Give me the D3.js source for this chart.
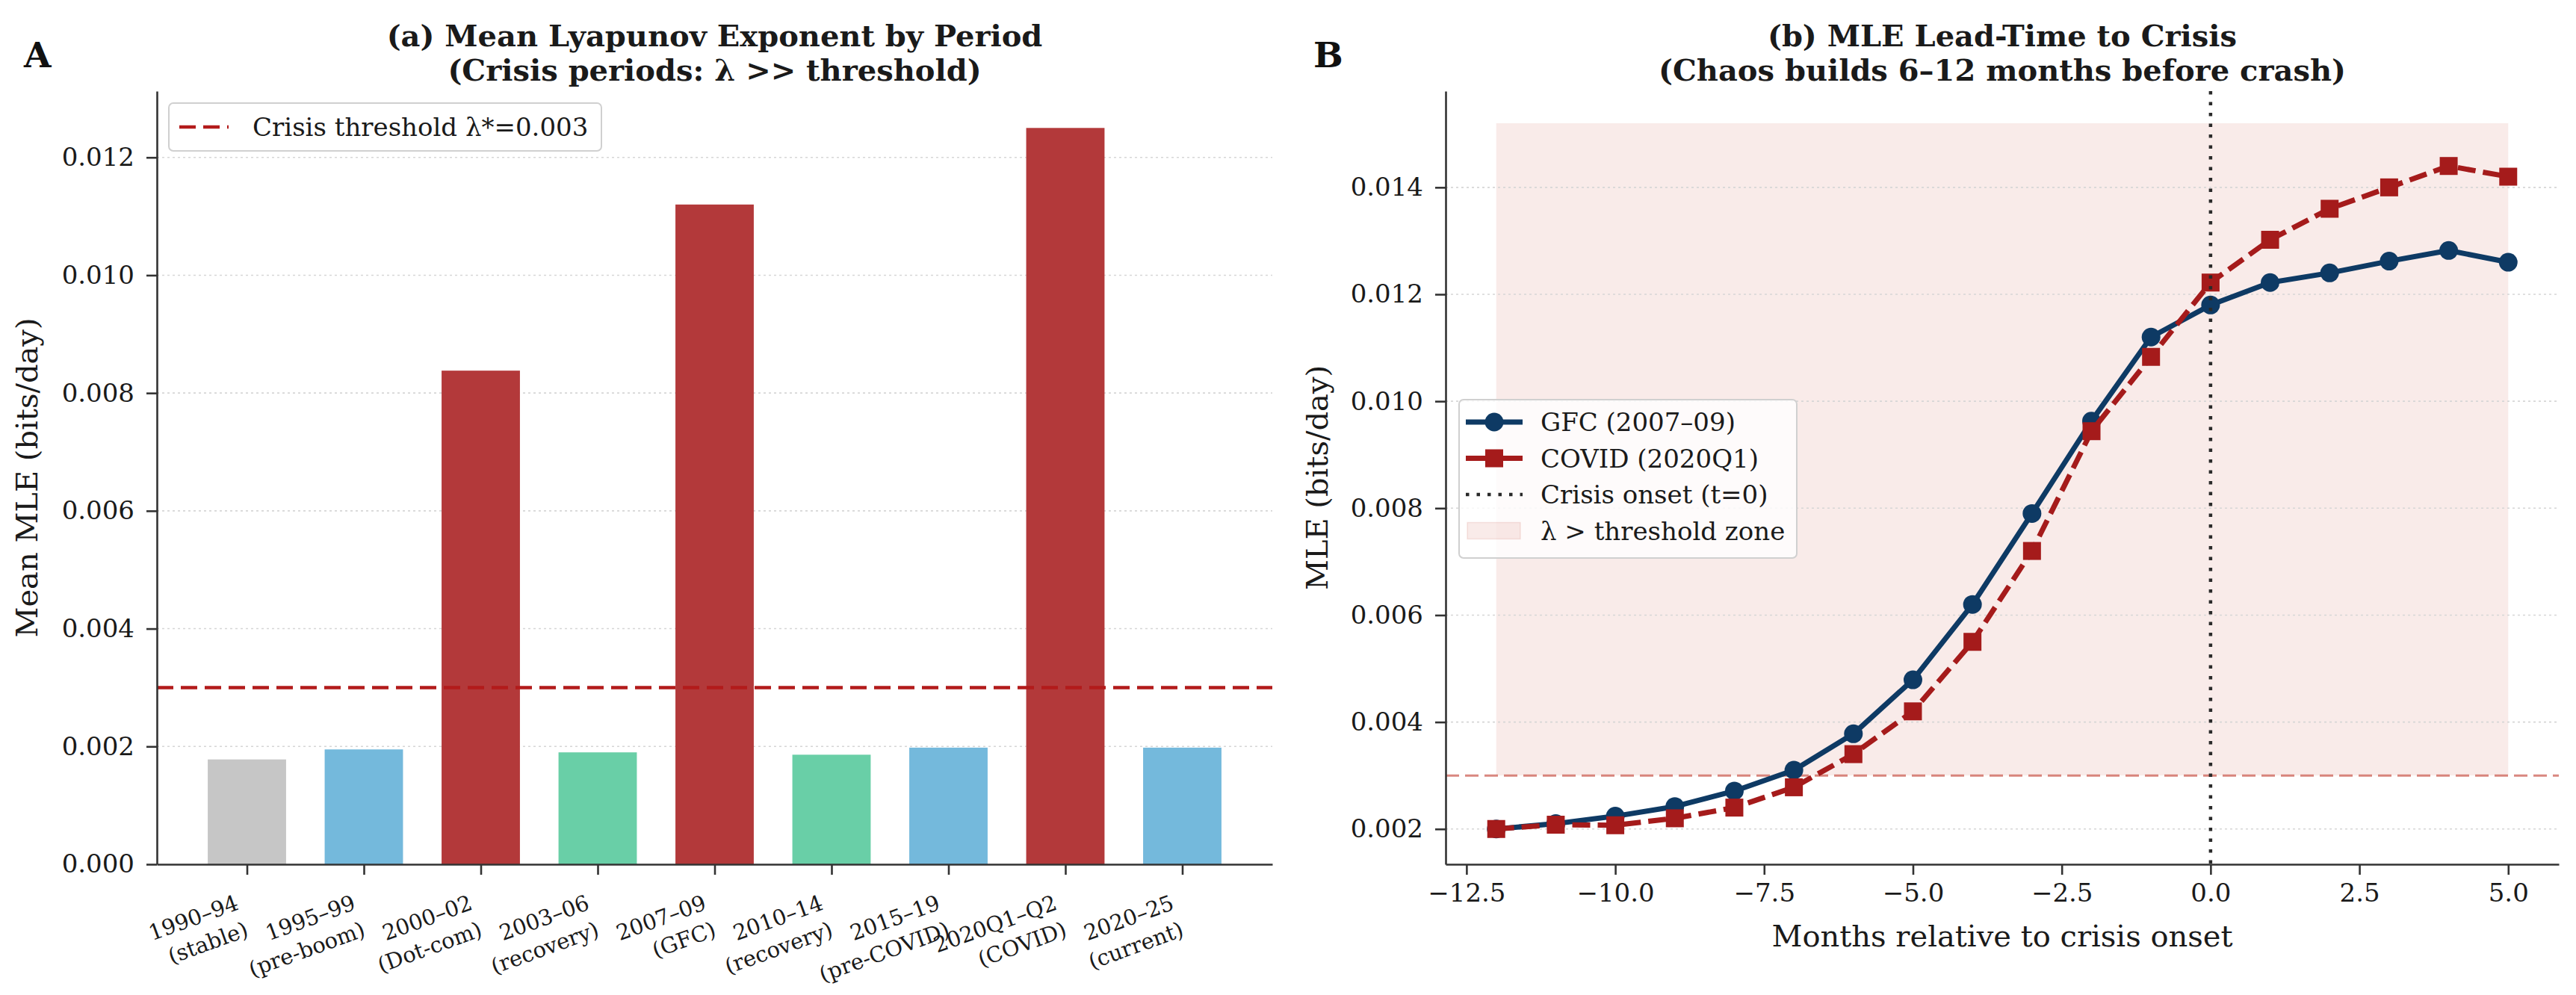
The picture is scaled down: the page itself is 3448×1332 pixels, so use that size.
<!DOCTYPE html>
<html>
<head>
<meta charset="utf-8">
<script src="https://cdn.jsdelivr.net/npm/d3@7"></script>
<style>
  body { margin: 0; background: #fff; }
  svg { display: block; font-family: "DejaVu Serif", serif; }
</style>
</head>
<body>
<script>
// panel A data
const periodYears = ['1990–94', '1995–99', '2000–02', '2003–06', '2007–09', '2010–14', '2015–19', '2020Q1–Q2', '2020–25'];
const periodNotes = ['(stable)', '(pre-boom)', '(Dot-com)', '(recovery)', '(GFC)', '(recovery)', '(pre-COVID)', '(COVID)', '(current)'];
const periodRegime = ['stable', 'calm', 'crisis', 'recovery', 'crisis', 'recovery', 'calm', 'crisis', 'calm'];
const meanMLE = [0.00178, 0.00195, 0.00838, 0.0019, 0.0112, 0.00186, 0.00198, 0.0125, 0.00198];
const yTicksA = [0, 0.002, 0.004, 0.006, 0.008, 0.010, 0.012];
const threshold = 0.003;

// panel B data
const months = [-12, -11, -10, -9, -8, -7, -6, -5, -4, -3, -2, -1, 0, 1, 2, 3, 4, 5];
const gfcMLE = [0.0020, 0.0021, 0.00224, 0.00242, 0.00271, 0.0031, 0.00378, 0.00479, 0.0062, 0.0079, 0.00963, 0.0112, 0.0118, 0.01222, 0.0124, 0.01262, 0.01282, 0.0126];
const covidMLE = [0.0020, 0.00208, 0.00207, 0.0022, 0.0024, 0.00278, 0.0034, 0.0042, 0.0055, 0.0072, 0.00944, 0.01083, 0.01222, 0.01302, 0.0136, 0.0140, 0.0144, 0.0142];
const zoneTop = 0.0152;
const yTicksB = [0.002, 0.004, 0.006, 0.008, 0.010, 0.012, 0.014];
const xTicksB = [-12.5, -10, -7.5, -5, -2.5, 0, 2.5, 5];

const regimeColor = { stable: '#c6c6c6', calm: '#74b9dc', crisis: '#b3393a', recovery: '#69cfa7' };
const navy = '#0e3a64', crimson = '#a51b1b', ink = '#1a1a1a', spine = '#333';
const serif = '"DejaVu Serif", serif';

const W = 3448, H = 1332;
const svg = d3.select('body').append('svg').attr('width', W).attr('height', H);

function styleAxis(g, fs) {
  g.attr('font-family', serif).attr('font-size', fs);
  g.select('.domain').attr('stroke', spine).attr('stroke-width', 2.6);
  g.selectAll('.tick line').attr('stroke', spine).attr('stroke-width', 2.6);
  g.selectAll('.tick text').attr('font-size', fs).attr('fill', ink).attr('font-family', serif);
}

function hGrid(g, ticks, y, x0, x1) {
  g.selectAll('line.grid').data(ticks.filter(t => t > 0)).enter().append('line')
    .attr('class', 'grid')
    .attr('x1', x0).attr('x2', x1)
    .attr('y1', d => y(d)).attr('y2', d => y(d))
    .attr('stroke', '#d6d6d6').attr('stroke-width', 1.6).attr('stroke-dasharray', '3,4');
}

// ---------------- panel A ----------------
const plotTop = 122, plotBottom = 1157;
const leftA = 210, rightA = 1703;
const xA = d3.scaleLinear().domain([-0.77, 8.77]).range([leftA, rightA]);
const yA = d3.scaleLinear().domain([0, d3.max(meanMLE) * 1.05]).range([plotBottom, plotTop]);
const half = 0.335;

const gA = svg.append('g');
hGrid(gA, yTicksA, yA, leftA, rightA);

gA.selectAll('rect.bar').data(meanMLE).enter().append('rect')
  .attr('class', 'bar')
  .attr('x', (d, i) => xA(i - half))
  .attr('width', (d, i) => xA(i + half) - xA(i - half))
  .attr('y', d => yA(d))
  .attr('height', d => yA(0) - yA(d))
  .attr('fill', (d, i) => regimeColor[periodRegime[i]]);

gA.append('line')
  .attr('x1', leftA).attr('x2', rightA)
  .attr('y1', yA(threshold)).attr('y2', yA(threshold))
  .attr('stroke', '#b31b1b').attr('stroke-width', 4.5).attr('stroke-dasharray', '22,10');

const axLA = gA.append('g').attr('transform', `translate(${leftA},0)`)
  .call(d3.axisLeft(yA).tickValues(yTicksA).tickFormat(d3.format('.3f')).tickSize(14).tickPadding(16).tickSizeOuter(0));
styleAxis(axLA, 34);

const axBA = gA.append('g').attr('transform', `translate(0,${plotBottom})`)
  .call(d3.axisBottom(xA).tickValues(d3.range(meanMLE.length)).tickFormat('').tickSize(14).tickSizeOuter(0));
styleAxis(axBA, 29);

// two-line rotated category labels, right aligned at the tick
axBA.selectAll('.tick').each(function(i) {
  const t = d3.select(this).append('text')
    .attr('transform', 'translate(-17,40) rotate(-20)')
    .attr('text-anchor', 'end')
    .attr('font-family', serif)
    .attr('font-size', 29)
    .attr('fill', ink);
  t.append('tspan').attr('x', 0).attr('y', 21).text(periodYears[i]);
  t.append('tspan').attr('x', 0).attr('y', 59).text(periodNotes[i]);
});

gA.append('text')
  .attr('transform', `translate(50,${(plotTop + plotBottom) / 2}) rotate(-90)`)
  .attr('text-anchor', 'middle').attr('font-size', 40).attr('fill', ink)
  .text('Mean MLE (bits/day)');

gA.append('text').attr('x', (leftA + rightA) / 2).attr('y', 62)
  .attr('text-anchor', 'middle').attr('font-size', 40).attr('font-weight', 'bold').attr('fill', ink)
  .text('(a) Mean Lyapunov Exponent by Period');
gA.append('text').attr('x', (leftA + rightA) / 2).attr('y', 108)
  .attr('text-anchor', 'middle').attr('font-size', 40).attr('font-weight', 'bold').attr('fill', ink)
  .text('(Crisis periods: λ >> threshold)');

gA.append('text').attr('x', 32).attr('y', 90)
  .attr('font-size', 47).attr('font-weight', 'bold').attr('fill', '#111').text('A');

// legend A
const legA = gA.append('g');
legA.append('rect').attr('x', 226).attr('y', 138).attr('width', 579).attr('height', 64).attr('rx', 6)
  .attr('fill', '#fff').attr('fill-opacity', 0.85).attr('stroke', '#d0d0d0').attr('stroke-width', 2);
legA.append('line').attr('x1', 240).attr('x2', 306).attr('y1', 170).attr('y2', 170)
  .attr('stroke', '#b31b1b').attr('stroke-width', 4.5).attr('stroke-dasharray', '22,10');
legA.append('text').attr('x', 338).attr('y', 182).attr('font-size', 34).attr('fill', ink)
  .text('Crisis threshold λ*=0.003');

// ---------------- panel B ----------------
const leftB = 1935, rightB = 3425;
const xB = d3.scaleLinear().domain([-12.85, 5.85]).range([leftB, rightB]);
const yB = d3.scaleLinear().domain([0.00134, 0.0158]).range([plotBottom, plotTop]);

const gB = svg.append('g');
const zoneFill = '#c0392b';

gB.append('rect')
  .attr('x', xB(months[0])).attr('width', xB(months[months.length - 1]) - xB(months[0]))
  .attr('y', yB(zoneTop)).attr('height', yB(threshold) - yB(zoneTop))
  .attr('fill', zoneFill).attr('fill-opacity', 0.1);

hGrid(gB, yTicksB, yB, leftB, rightB);

gB.append('line')
  .attr('x1', leftB).attr('x2', rightB)
  .attr('y1', yB(threshold)).attr('y2', yB(threshold))
  .attr('stroke', '#c0392b').attr('stroke-opacity', 0.6).attr('stroke-width', 3).attr('stroke-dasharray', '18,8');

const lineGen = vals => d3.line().x((d, i) => xB(months[i])).y(d => yB(d))(vals);
const lw = 7, mr = 12.5, ms = 24;

gB.append('path').attr('d', lineGen(gfcMLE))
  .attr('fill', 'none').attr('stroke', navy).attr('stroke-width', lw).attr('stroke-linejoin', 'round');
gB.selectAll('circle.gfc').data(gfcMLE).enter().append('circle')
  .attr('class', 'gfc')
  .attr('cx', (d, i) => xB(months[i])).attr('cy', d => yB(d)).attr('r', mr)
  .attr('fill', navy);

gB.append('path').attr('d', lineGen(covidMLE))
  .attr('fill', 'none').attr('stroke', crimson).attr('stroke-width', lw).attr('stroke-dasharray', '24,10');
gB.selectAll('rect.covid').data(covidMLE).enter().append('rect')
  .attr('class', 'covid')
  .attr('x', (d, i) => xB(months[i]) - ms / 2).attr('y', d => yB(d) - ms / 2)
  .attr('width', ms).attr('height', ms)
  .attr('fill', crimson);

gB.append('line')
  .attr('x1', xB(0)).attr('x2', xB(0)).attr('y1', plotTop).attr('y2', plotBottom)
  .attr('stroke', '#2a2a2a').attr('stroke-width', 4.5).attr('stroke-dasharray', '4.5,10');

const axLB = gB.append('g').attr('transform', `translate(${leftB},0)`)
  .call(d3.axisLeft(yB).tickValues(yTicksB).tickFormat(d3.format('.3f')).tickSize(14).tickPadding(16).tickSizeOuter(0));
styleAxis(axLB, 34);

const axBB = gB.append('g').attr('transform', `translate(0,${plotBottom})`)
  .call(d3.axisBottom(xB).tickValues(xTicksB).tickFormat(d3.format('.1f')).tickSize(14).tickPadding(12).tickSizeOuter(0));
styleAxis(axBB, 34);

gB.append('text')
  .attr('transform', `translate(1777,${(plotTop + plotBottom) / 2}) rotate(-90)`)
  .attr('text-anchor', 'middle').attr('font-size', 40).attr('fill', ink)
  .text('MLE (bits/day)');

gB.append('text').attr('x', (leftB + rightB) / 2).attr('y', 1267)
  .attr('text-anchor', 'middle').attr('font-size', 40).attr('fill', ink)
  .text('Months relative to crisis onset');

gB.append('text').attr('x', (leftB + rightB) / 2).attr('y', 62)
  .attr('text-anchor', 'middle').attr('font-size', 40).attr('font-weight', 'bold').attr('fill', ink)
  .text('(b) MLE Lead-Time to Crisis');
gB.append('text').attr('x', (leftB + rightB) / 2).attr('y', 108)
  .attr('text-anchor', 'middle').attr('font-size', 40).attr('font-weight', 'bold').attr('fill', ink)
  .text('(Chaos builds 6–12 months before crash)');

gB.append('text').attr('x', 1758).attr('y', 90)
  .attr('font-size', 47).attr('font-weight', 'bold').attr('fill', '#111').text('B');

// legend B
const legB = gB.append('g');
legB.append('rect').attr('x', 1953).attr('y', 535).attr('width', 452).attr('height', 212).attr('rx', 6)
  .attr('fill', '#fff').attr('fill-opacity', 0.8).attr('stroke', '#d0d0d0').attr('stroke-width', 2);

const legItems = [
  { label: 'GFC (2007–09)', kind: 'gfc' },
  { label: 'COVID (2020Q1)', kind: 'covid' },
  { label: 'Crisis onset (t=0)', kind: 'onset' },
  { label: 'λ > threshold zone', kind: 'zone' }
];
legItems.forEach((it, i) => {
  const base = 577 + i * 48.5, cy = base - 12;
  const g = legB.append('g');
  if (it.kind === 'gfc') {
    g.append('line').attr('x1', 1962).attr('x2', 2038).attr('y1', cy).attr('y2', cy)
      .attr('stroke', navy).attr('stroke-width', lw);
    g.append('circle').attr('cx', 2000).attr('cy', cy).attr('r', mr).attr('fill', navy);
  } else if (it.kind === 'covid') {
    g.append('line').attr('x1', 1962).attr('x2', 2038).attr('y1', cy).attr('y2', cy)
      .attr('stroke', crimson).attr('stroke-width', lw);
    g.append('rect').attr('x', 2000 - ms / 2).attr('y', cy - ms / 2).attr('width', ms).attr('height', ms).attr('fill', crimson);
  } else if (it.kind === 'onset') {
    g.append('line').attr('x1', 1962).attr('x2', 2038).attr('y1', cy).attr('y2', cy)
      .attr('stroke', '#2a2a2a').attr('stroke-width', 4.5).attr('stroke-dasharray', '4.5,10');
  } else {
    g.append('rect').attr('x', 1964).attr('y', cy - 11).attr('width', 71).attr('height', 22)
      .attr('fill', zoneFill).attr('fill-opacity', 0.1)
      .attr('stroke', zoneFill).attr('stroke-opacity', 0.12).attr('stroke-width', 1.5);
  }
  g.append('text').attr('x', 2062).attr('y', base).attr('font-size', 34).attr('fill', ink).text(it.label);
});
</script>
</body>
</html>
